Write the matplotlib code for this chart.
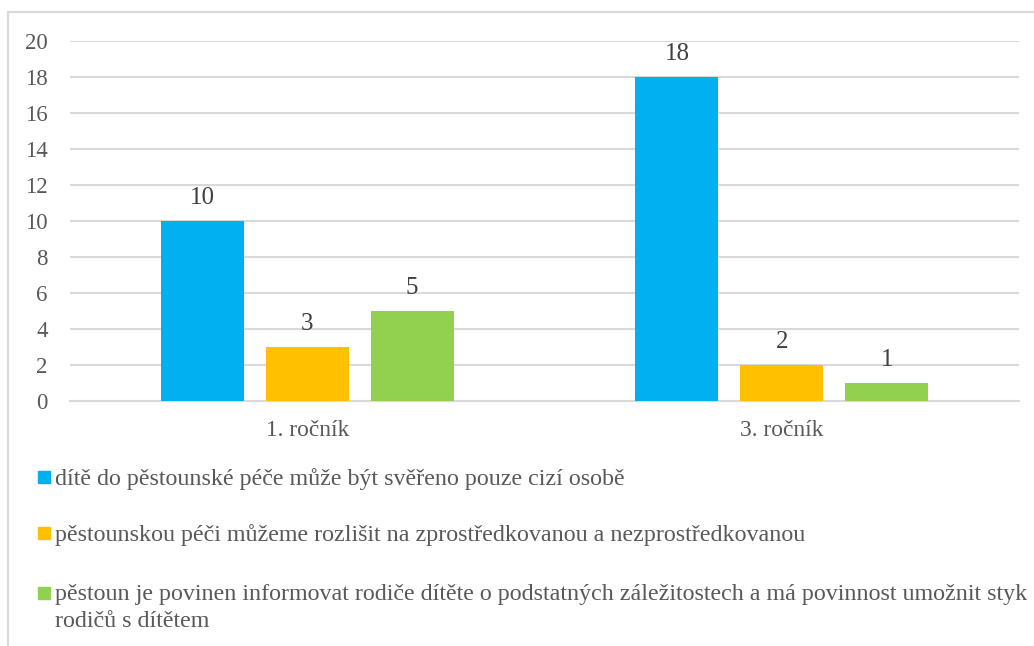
import matplotlib.pyplot as plt
from matplotlib.patches import Rectangle
import numpy as np

plt.rcParams['font.family'] = ['Liberation Serif', 'DejaVu Serif']

kategorie = ['1. ročník', '3. ročník']
serie = [
    'dítě do pěstounské péče může být svěřeno pouze cizí osobě',
    'pěstounskou péči můžeme rozlišit na zprostředkovanou a nezprostředkovanou',
    'pěstoun je povinen informovat rodiče dítěte o podstatných záležitostech a má povinnost umožnit styk\nrodičů s dítětem',
]
hodnoty = [
    [10, 18],
    [3, 2],
    [5, 1],
]
barvy = ['#00B0F0', '#FFC000', '#92D050']

SEDA = '#595959'
MRIZKA = '#D9D9D9'
W, H = 1034, 646

fig = plt.figure(figsize=(W / 100, H / 100), dpi=100)
ax = fig.add_axes([70 / W, 1 - 401 / H, (1019 - 70) / W, 360 / H])

x = np.arange(len(kategorie))
krok = 0.221
sirka = 0.175
for i, (vals, barva) in enumerate(zip(hodnoty, barvy)):
    sl = ax.bar(x + (i - 1) * krok, vals, sirka, color=barva, zorder=3)
    ax.bar_label(sl, padding=9, fontsize=18, color='#404040')

ax.set_xlim(-0.5, 1.5)
ax.set_ylim(0, 20)
ax.set_yticks(range(0, 21, 2))
ax.set_xticks(x)
ax.set_xticklabels(kategorie)
ax.grid(axis='y', color=MRIZKA, linewidth=1.5, zorder=0)
for s in ['top', 'right', 'left']:
    ax.spines[s].set_visible(False)
ax.spines['bottom'].set_color(MRIZKA)
ax.spines['bottom'].set_linewidth(1.5)
ax.tick_params(axis='y', length=0, pad=16, labelsize=16.5, labelcolor=SEDA)
ax.tick_params(axis='x', length=0, pad=14, labelsize=16.8, labelcolor=SEDA)

# legenda pod grafem
radky = [477, 533, 593]
for y, text, barva in zip(radky, serie, barvy):
    fig.patches.append(Rectangle((38 / W, 1 - (y + 6) / H), 12 / W, 12 / H,
                                 transform=fig.transFigure, color=barva))
    fig.text(55 / W, 1 - (y - 9) / H, text, fontsize=17.3, color=SEDA,
             va='top', ha='left', linespacing=1.4)

# ramecek grafu
fig.patches.append(Rectangle((8 / W, -0.1), 1.2, 1.1 - 12 / H,
                             transform=fig.transFigure, fill=False,
                             edgecolor=MRIZKA, linewidth=1.5))

fig.savefig('out.png', dpi=100)
